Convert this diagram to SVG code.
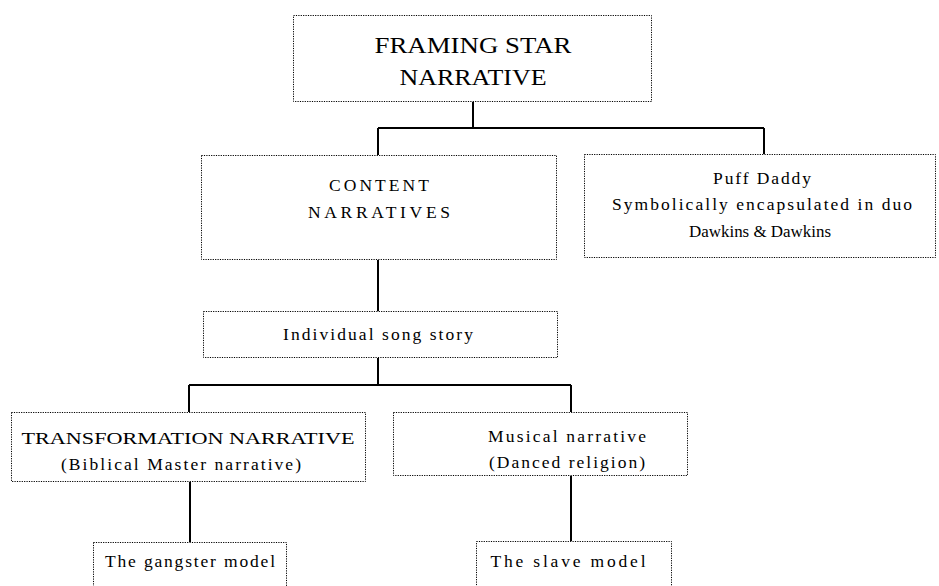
<svg xmlns="http://www.w3.org/2000/svg" width="939" height="586" viewBox="0 0 939 586">
<style>
.box{fill:#fff;stroke:#000;stroke-width:1;stroke-dasharray:1.2 1.2}
.t{font-family:"Liberation Serif","Times New Roman",serif;fill:#000;text-anchor:middle;font-size:17.5px}
.big{font-size:24px}
.con{fill:none;stroke:#000;stroke-width:2}
</style>
<rect width="939" height="586" fill="#fff"/>
<g id="connectors">
<path class="con" d="M473 102V128M378 128H764M378 128V155M764 128V154"/>
<path class="con" d="M378 260V311"/>
<path class="con" d="M378 358V385M189 385H571M189 385V412M571 385V412"/>
<path class="con" d="M190 482V542"/>
<path class="con" d="M571 476V541"/>
</g>
<g id="framing">
<rect class="box" x="293.5" y="15.5" width="358" height="86"/>
<text class="t big" x="473" y="53" textLength="197" lengthAdjust="spacingAndGlyphs">FRAMING STAR</text>
<text class="t big" x="473" y="85" textLength="147" lengthAdjust="spacingAndGlyphs">NARRATIVE</text>
</g>
<g id="content">
<rect class="box" x="201.5" y="155.5" width="355" height="104"/>
<text class="t" x="379" y="191" textLength="100">CONTENT</text>
<text class="t" x="379" y="218" textLength="142">NARRATIVES</text>
</g>
<g id="puff">
<rect class="box" x="584.5" y="154.5" width="351" height="103"/>
<text class="t" x="762" y="184" textLength="98">Puff Daddy</text>
<text class="t" x="762" y="210" textLength="300">Symbolically encapsulated in duo</text>
<text class="t" x="760" y="237" textLength="142" lengthAdjust="spacingAndGlyphs">Dawkins &amp; Dawkins</text>
</g>
<g id="individual">
<rect class="box" x="203.5" y="311.5" width="354" height="46"/>
<text class="t" x="378" y="340" textLength="190">Individual song story</text>
</g>
<g id="transformation">
<rect class="box" x="11.5" y="412.5" width="354" height="69"/>
<text class="t" x="188" y="444" textLength="333" lengthAdjust="spacingAndGlyphs">TRANSFORMATION NARRATIVE</text>
<text class="t" x="181" y="470" textLength="240">(Biblical Master narrative)</text>
</g>
<g id="musical">
<rect class="box" x="393.5" y="412.5" width="294" height="63"/>
<text class="t" x="567" y="442" textLength="158">Musical narrative</text>
<text class="t" x="567" y="468" textLength="156">(Danced religion)</text>
</g>
<g id="gangster">
<rect class="box" x="93.5" y="542.5" width="193" height="50"/>
<text class="t" x="190" y="567" textLength="170">The gangster model</text>
</g>
<g id="slave">
<rect class="box" x="476.5" y="541.5" width="195" height="50"/>
<text class="t" x="568" y="567" textLength="155">The slave model</text>
</g>
</svg>
